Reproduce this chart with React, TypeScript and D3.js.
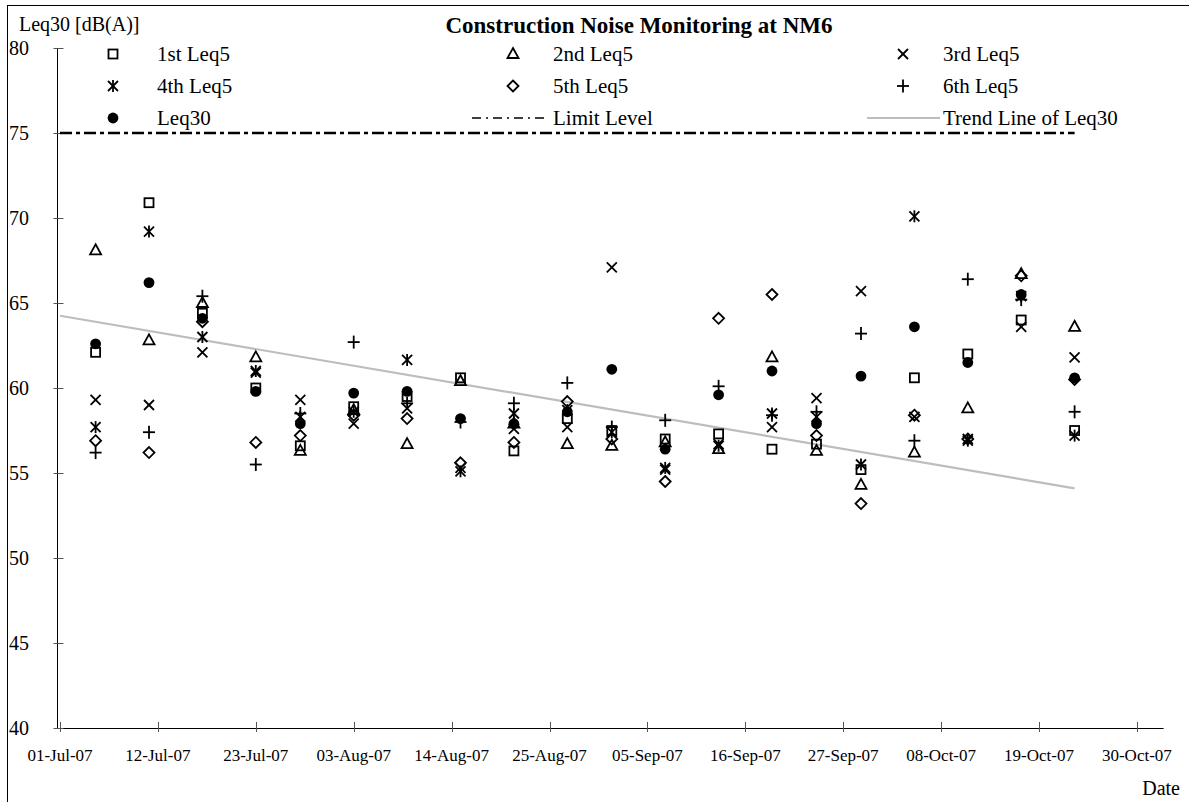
import React from "react";
import * as d3 from "d3";

const dates: string[] = [
  "2007-07-05", "2007-07-11", "2007-07-17", "2007-07-23", "2007-07-28",
  "2007-08-03", "2007-08-09", "2007-08-15", "2007-08-21", "2007-08-27",
  "2007-09-01", "2007-09-07", "2007-09-13", "2007-09-19", "2007-09-24",
  "2007-09-29", "2007-10-05", "2007-10-11", "2007-10-17", "2007-10-23",
];

const leq5First: number[] = [62.1, 70.9, 64.4, 60.0, 56.6, 58.9, 59.5, 60.6, 56.3, 58.2, 57.5, 57.0, 57.3, 56.4, 56.7, 55.2, 60.6, 62.0, 64.0, 57.5];
const leq5Second: number[] = [68.1, 62.8, 65.0, 61.8, 56.3, 58.7, 56.7, 60.4, 57.9, 56.7, 56.6, 56.8, 56.4, 61.8, 56.3, 54.3, 56.2, 58.8, 66.7, 63.6];
const leq5Third: number[] = [59.3, 59.0, 62.1, 60.9, 59.3, 57.9, 58.8, 55.3, 57.6, 57.7, 67.1, 55.2, 56.7, 57.7, 59.4, 65.7, 58.3, 57.0, 63.6, 61.8];
const leq5Fourth: number[] = [57.7, 69.2, 63.0, 61.0, 58.3, 58.6, 61.65, 55.1, 58.5, 58.7, 57.4, 55.3, 56.6, 58.5, 58.3, 55.5, 70.1, 56.9, 65.4, 57.2];
const leq5Fifth: number[] = [56.9, 56.2, 63.9, 56.8, 57.2, 58.4, 58.2, 55.6, 56.8, 59.2, 57.0, 54.5, 64.1, 65.5, 57.2, 53.2, 58.4, 57.0, 66.6, 60.5];
const leq5Sixth: number[] = [56.2, 57.4, 65.4, 55.5, 58.5, 62.7, 59.1, 58.0, 59.1, 60.3, 57.7, 58.1, 60.1, 58.4, 58.6, 63.2, 56.9, 66.4, 65.2, 58.6];
const leq30: number[] = [62.6, 66.2, 64.1, 59.8, 57.9, 59.7, 59.8, 58.2, 57.9, 58.6, 61.1, 56.4, 59.6, 61.0, 57.9, 60.7, 63.6, 61.5, 65.5, 60.6];

const limitLevel = 75;
const limitDates: string[] = ["2007-07-01", "2007-10-23"];
const trendDates: string[] = ["2007-07-01", "2007-10-23"];
const trendValues: number[] = [64.25, 54.1];

const xTickLabels: string[] = [
  "01-Jul-07", "12-Jul-07", "23-Jul-07", "03-Aug-07", "14-Aug-07", "25-Aug-07",
  "05-Sep-07", "16-Sep-07", "27-Sep-07", "08-Oct-07", "19-Oct-07", "30-Oct-07",
];
const yTicks: number[] = [40, 45, 50, 55, 60, 65, 70, 75, 80];

const parse = d3.timeParse("%Y-%m-%d");
const parseTick = d3.timeParse("%d-%b-%y");

type MarkerKind = "square" | "triangle" | "x" | "asterisk" | "diamond" | "plus" | "circle";

const FONT = "'Liberation Serif', 'Times New Roman', serif";

function Marker({ kind, cx, cy }: { kind: MarkerKind; cx: number; cy: number }) {
  const s = { stroke: "#000", strokeWidth: 1.8, fill: "none" };
  switch (kind) {
    case "square":
      return <rect x={cx - 4.5} y={cy - 4.5} width={9} height={9} {...s} />;
    case "triangle":
      return <polygon points={`${cx},${cy - 6} ${cx + 5.5},${cy + 4} ${cx - 5.5},${cy + 4}`} {...s} />;
    case "x":
      return (
        <g {...s}>
          <line x1={cx - 5} y1={cy - 5} x2={cx + 5} y2={cy + 5} />
          <line x1={cx - 5} y1={cy + 5} x2={cx + 5} y2={cy - 5} />
        </g>
      );
    case "asterisk":
      return (
        <g {...s}>
          <line x1={cx - 5} y1={cy - 5} x2={cx + 5} y2={cy + 5} />
          <line x1={cx - 5} y1={cy + 5} x2={cx + 5} y2={cy - 5} />
          <line x1={cx} y1={cy - 6} x2={cx} y2={cy + 6} />
        </g>
      );
    case "diamond":
      return <polygon points={`${cx},${cy - 5.5} ${cx + 5.5},${cy} ${cx},${cy + 5.5} ${cx - 5.5},${cy}`} {...s} />;
    case "plus":
      return (
        <g {...s}>
          <line x1={cx - 6} y1={cy} x2={cx + 6} y2={cy} />
          <line x1={cx} y1={cy - 6.5} x2={cx} y2={cy + 6.5} />
        </g>
      );
    case "circle":
      return <circle cx={cx} cy={cy} r={5.4} fill="#000" />;
  }
}

const series: { name: string; values: number[]; kind: MarkerKind }[] = [
  { name: "1st Leq5", values: leq5First, kind: "square" },
  { name: "2nd Leq5", values: leq5Second, kind: "triangle" },
  { name: "3rd Leq5", values: leq5Third, kind: "x" },
  { name: "4th Leq5", values: leq5Fourth, kind: "asterisk" },
  { name: "5th Leq5", values: leq5Fifth, kind: "diamond" },
  { name: "6th Leq5", values: leq5Sixth, kind: "plus" },
  { name: "Leq30", values: leq30, kind: "circle" },
];

export default function App() {
  const W = 1189;
  const H = 802;
  const axisX = 57.5;
  const x = d3
    .scaleTime()
    .domain([parse("2007-07-01")!, parse("2007-11-02")!])
    .range([60, 60 + 124 * 8.9]);
  const y = d3.scaleLinear().domain([40, 80]).range([728, 48]);
  const plotRight = x.range()[1];
  const baseY = y(40);

  const limitLine = d3.line<string>().x((d) => x(parse(d)!)).y(() => y(limitLevel));
  const trendLine = d3
    .line<number>()
    .x((_, i) => x(parse(trendDates[i])!))
    .y((d) => y(d));

  const legendCols = [113, 513, 903];
  const legendTextCols = [157, 553, 943];
  const legendRows = [61, 93, 125];

  return (
    <svg width={W} height={H} style={{ position: "absolute", left: 0, top: 0, background: "#fff" }} fontFamily={FONT}>
      <rect x={0} y={0} width={W} height={H} fill="#fff" />
      <rect x={7.5} y={5.5} width={W + 20} height={H + 20} fill="none" stroke="#000" strokeWidth={1} />

      <text x={639} y={33} textAnchor="middle" fontSize={23} fontWeight="bold">
        Construction Noise Monitoring at NM6
      </text>
      <text x={19} y={31} fontSize={20}>Leq30 [dB(A)]</text>
      <text x={1180} y={795} fontSize={20} textAnchor="end">Date</text>

      <line x1={axisX} y1={y(80)} x2={axisX} y2={baseY} stroke="#000" strokeWidth={1} />
      <line x1={axisX} y1={baseY + 0.5} x2={plotRight} y2={baseY + 0.5} stroke="#000" strokeWidth={1} />
      {yTicks.map((t) => (
        <g key={t}>
          <line x1={axisX} x2={axisX + 6} y1={Math.round(y(t)) + 0.5} y2={Math.round(y(t)) + 0.5} stroke="#555" strokeWidth={1} />
          <line x1={axisX - 4} x2={axisX} y1={Math.round(y(t)) + 0.5} y2={Math.round(y(t)) + 0.5} stroke="#555" strokeWidth={1} />
          <text x={29} y={y(t)} fontSize={20} textAnchor="end" dominantBaseline="central">
            {t}
          </text>
        </g>
      ))}
      {xTickLabels.map((lab) => {
        const xv = x(parseTick(lab)!);
        return (
          <g key={lab}>
            <line x1={Math.round(xv) + 0.5} x2={Math.round(xv) + 0.5} y1={baseY} y2={baseY - 6} stroke="#555" strokeWidth={1} />
            <line x1={Math.round(xv) + 0.5} x2={Math.round(xv) + 0.5} y1={baseY} y2={baseY + 4} stroke="#555" strokeWidth={1} />
            <text x={xv} y={761} fontSize={17} textAnchor="middle">
              {lab}
            </text>
          </g>
        );
      })}

      <path d={limitLine(limitDates) || ""} stroke="#000" strokeWidth={2.5} strokeDasharray="12,4,4,4" fill="none" />
      <path d={trendLine(trendValues) || ""} stroke="#bdbdbd" strokeWidth={2.2} fill="none" />

      {series.map((s) => (
        <g key={s.name}>
          {s.values.map((v, i) => (
            <Marker key={i} kind={s.kind} cx={x(parse(dates[i])!)} cy={y(v)} />
          ))}
        </g>
      ))}

      {series.slice(0, 6).map((s, i) => {
        const col = i % 3;
        const row = Math.floor(i / 3);
        return (
          <g key={s.name}>
            <Marker kind={s.kind} cx={legendCols[col]} cy={legendRows[row] - 7} />
            <text x={legendTextCols[col]} y={legendRows[row]} fontSize={21}>
              {s.name}
            </text>
          </g>
        );
      })}
      <Marker kind="circle" cx={legendCols[0]} cy={legendRows[2] - 7} />
      <text x={legendTextCols[0]} y={legendRows[2]} fontSize={21}>Leq30</text>
      <line x1={472} x2={548} y1={legendRows[2] - 7} y2={legendRows[2] - 7} stroke="#000" strokeWidth={1.5} strokeDasharray="9,5,2,5" />
      <text x={legendTextCols[1]} y={legendRows[2]} fontSize={21}>Limit Level</text>
      <line x1={867} x2={940} y1={legendRows[2] - 7} y2={legendRows[2] - 7} stroke="#bdbdbd" strokeWidth={2.2} />
      <text x={legendTextCols[2]} y={legendRows[2]} fontSize={21}>Trend Line of Leq30</text>
    </svg>
  );
}
